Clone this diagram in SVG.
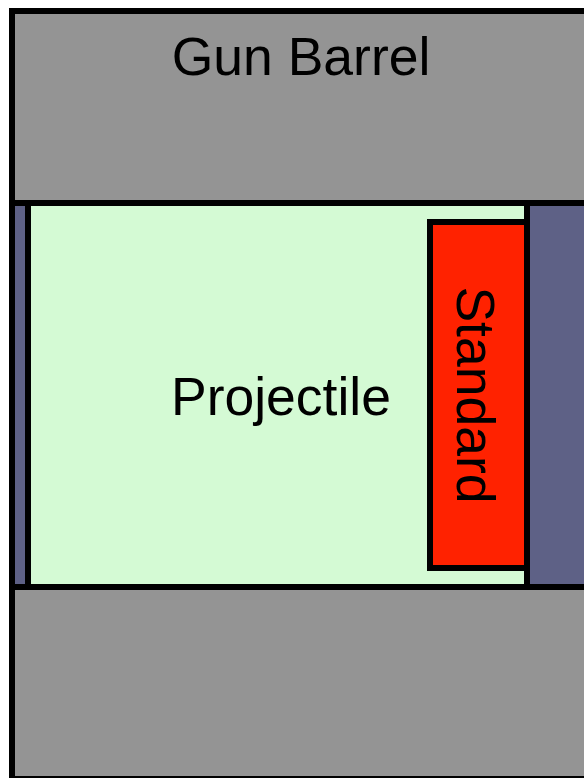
<svg xmlns="http://www.w3.org/2000/svg" width="584" height="778" viewBox="0 0 584 778">
  <style>
    .edge { stroke: #000; stroke-width: 6; }
    .barrel { fill: #949494; }
    .gap { fill: #5E6186; }
    .label { font-family: "Liberation Sans", Arial, sans-serif; font-size: 53.5px; fill: #000; text-anchor: middle; }
  </style>
  <rect width="584" height="778" fill="#fff"/>

  <!-- gun barrel walls -->
  <g id="barrel">
    <rect class="barrel edge" x="12" y="11" width="600" height="192"/>
    <rect class="barrel edge" x="12" y="587" width="600" height="192"/>
    <line class="edge" x1="12" y1="203" x2="12" y2="587"/>
    <text class="label" x="301" y="75">Gun Barrel</text>
  </g>

  <!-- gaps either side of the projectile -->
  <g id="rear-gap">
    <rect class="gap" x="15" y="206" width="13" height="378"/>
  </g>
  <g id="front-gap">
    <rect class="gap" x="527" y="206" width="60" height="378"/>
  </g>

  <!-- projectile body -->
  <g id="projectile">
    <rect class="edge" fill="#D4FAD4" x="28" y="203" width="499" height="384"/>
    <text class="label" x="281" y="415">Projectile</text>
  </g>

  <!-- standard at the projectile nose -->
  <g id="standard">
    <rect class="edge" fill="#FF2200" x="430" y="222" width="97" height="346"/>
    <text class="label" transform="translate(457,395) rotate(90)">Standard</text>
  </g>
</svg>
